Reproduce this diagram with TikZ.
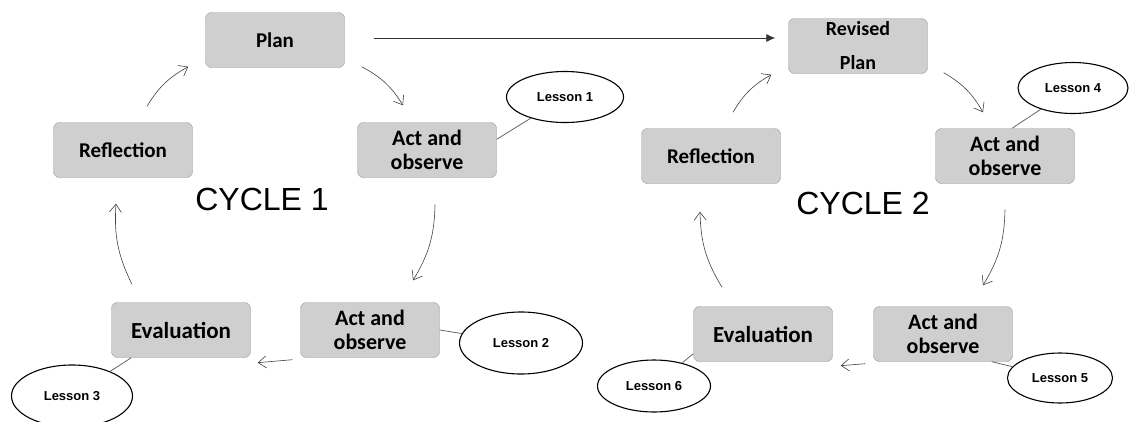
\documentclass[tikz,border=0pt]{standalone}
\usepackage{fontspec}
\setmainfont{Carlito}
\newfontfamily\arialfont{Liberation Sans}
\usetikzlibrary{arrows.meta,shapes.geometric}
\tikzset{
  box/.style={draw=gray!80,fill=gray!38,rounded corners=6pt,minimum width=139pt,minimum height=55pt,inner sep=0pt,align=center,font=\bfseries\fontsize{21}{24}\selectfont},
  actbox/.style={box,font=\bfseries\fontsize{22}{24}\selectfont},
  lesson/.style={draw,ellipse,line width=1.1pt,inner sep=0pt,font=\arialfont\bfseries\fontsize{13}{15}\selectfont},
  flow/.style={draw=black!75,line width=0.6pt,-{Straight Barb[length=8pt,width=12pt]}},
  tie/.style={draw=black!60,line width=0.8pt},
  cyc/.style={font=\arialfont\fontsize{32}{36}\selectfont}
}
\begin{document}
\begin{tikzpicture}[x=1pt,y=-1pt]
\useasboundingbox(0,0) rectangle (1135,421);
% cycle 1
\node[box] (plan1) at (275,40){Plan};
\node[box] (refl1) at (123,150){Reflection};
\node[actbox] (act1) at (427,150){Act and\\observe};
\node[actbox] (act2) at (370,330){Act and\\observe};
\node[box,font=\bfseries\fontsize{23}{24}\selectfont] (eval1) at (181,330){Evaluation};
\node[cyc] (cyc1) at (262,199){CYCLE 1};
\node[lesson,minimum width=117pt,minimum height=51pt] (lesson1) at (565,97){Lesson 1};
\node[lesson,minimum width=123pt,minimum height=62pt] (lesson2) at (521,343){Lesson 2};
\node[lesson,minimum width=121pt,minimum height=62pt] (lesson3) at (72,396){Lesson 3};
\draw[flow]([shift={(24,-16)}]refl1.north) to[bend left=15] ([shift={(-17,-1)}]plan1.south west);
\draw[flow]([shift={(17,-1)}]plan1.south east) to[bend left=15] ([shift={(-24,-17)}]act1.north);
\draw[flow]([shift={(8,27)}]act1.south) to[bend left=15] ([shift={(43,-22)}]act2.north);
\draw[flow]([shift={(-8,2)}]act2.south west) -- ([shift={(7,5)}]eval1.south east);
\draw[flow]([shift={(-49,-18)}]eval1.north) to[bend left=15] ([shift={(-7,26)}]refl1.south);
\draw[tie]([shift={(0,17)}]act1.north east) -- (lesson1);
\draw[tie](act2.east) -- (lesson2);
\draw[tie]([shift={(20,0)}]eval1.south west) -- (lesson3);
% cycle 2
\node[box,font=\bfseries\fontsize{20}{34}\selectfont] (rplan) at (858,46){Revised\\Plan};
\node[box] (refl2) at (711,156){Reflection};
\node[actbox] (act4) at (1005,156){Act and\\observe};
\node[actbox] (act5) at (943,334){Act and\\observe};
\node[box,font=\bfseries\fontsize{23}{24}\selectfont] (eval2) at (763,334){Evaluation};
\node[cyc] (cyc2) at (863,203){CYCLE 2};
\node[lesson,minimum width=110pt,minimum height=51pt] (lesson4) at (1073,88){Lesson 4};
\node[lesson,minimum width=105pt,minimum height=50pt] (lesson5) at (1060,378){Lesson 5};
\node[lesson,minimum width=113pt,minimum height=52pt] (lesson6) at (654,386){Lesson 6};
\draw[flow]([shift={(22,-16)}]refl2.north) to[bend left=15] ([shift={(-17,1)}]rplan.south west);
\draw[flow]([shift={(16,-1)}]rplan.south east) to[bend left=15] ([shift={(-22,-16)}]act4.north);
\draw[flow]([shift={(0,26)}]act4.south) to[bend left=15] ([shift={(40,-21)}]act5.north);
\draw[flow]([shift={(-8,2)}]act5.south west) -- ([shift={(8,4)}]eval2.south east);
\draw[flow]([shift={(-41,-19)}]eval2.north) to[bend left=15] ([shift={(-11,28)}]refl2.south);
\draw[tie]([shift={(7,0)}]act4.north) -- (lesson4);
\draw[tie]([shift={(-21,0)}]act5.south east) -- (lesson5);
\draw[tie]([shift={(0,-8)}]eval2.south west) -- (lesson6);
% plan to revised plan
\draw[draw=black!80,line width=0.8pt,-{Latex[length=9pt,width=8pt]}]([shift={(29,-2)}]plan1.east) -- ([shift={(-13,-8)}]rplan.west);
\end{tikzpicture}
\end{document}
